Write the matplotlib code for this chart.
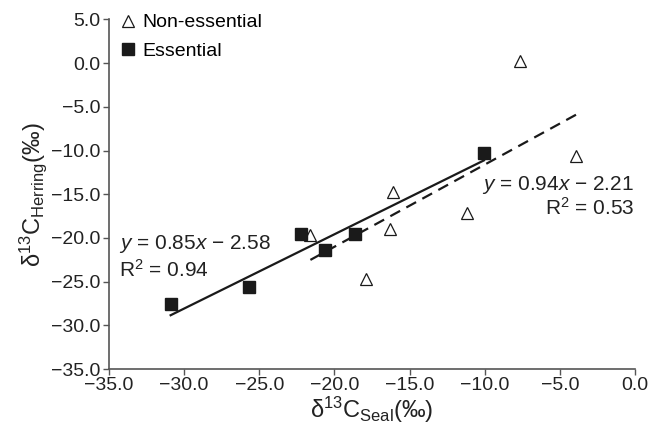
import matplotlib

matplotlib.use("Agg")
import matplotlib.pyplot as plt
import numpy as np

plt.rcParams["font.family"] = ["Liberation Sans", "DejaVu Sans"]
plt.rcParams["mathtext.fontset"] = "custom"
plt.rcParams["mathtext.rm"] = "Liberation Sans"
plt.rcParams["mathtext.it"] = "Liberation Sans:italic"

# essential fatty acids (filled squares)
ess_seal = [-30.9, -25.7, -22.2, -20.6, -18.6, -10.05]
ess_herring = [-27.6, -25.6, -19.6, -21.4, -19.6, -10.3]

# non-essential (open triangles)
non_seal = [-21.6, -16.3, -17.9, -11.2, -16.1, -7.65, -3.9]
non_herring = [-19.7, -19.0, -24.7, -17.2, -14.7, 0.2, -10.6]

ess_fit = (0.85, -2.58, 0.94)
non_fit = (0.94, -2.21, 0.53)

xticks = np.arange(-35, 0.1, 5)
yticks = np.arange(-35, 5.1, 5)

fig = plt.figure(figsize=(6.62, 4.37), dpi=100)
ax = fig.add_axes([0.1647, 0.1556, 0.7945, 0.7998])

ink = "#1a1a1a"
txt = "#222222"
spine_col = "#555555"

xe = np.array([min(ess_seal), max(ess_seal)])
ax.plot(xe, ess_fit[0] * xe + ess_fit[1], color=ink, lw=1.6, zorder=2)
xn = np.array([min(non_seal), max(non_seal)])
ax.plot(xn, non_fit[0] * xn + non_fit[1], color=ink, lw=1.6, ls=(0, (5, 3.2)), zorder=2)

ax.plot(non_seal, non_herring, ls="none", marker="^", ms=9, mfc="white", mec=ink, mew=0.9,
        label="Non-essential", zorder=3)
ax.plot(ess_seal, ess_herring, ls="none", marker="s", ms=9, mfc=ink, mec=ink,
        label="Essential", zorder=4)

ax.text(-34.35, -20.7, r"$y$ = 0.85$x$ − 2.58", fontsize=15, ha="left", va="center", color=txt)
ax.text(-34.35, -23.65, r"R$^2$ = 0.94", fontsize=15, ha="left", va="center", color=txt)
ax.text(-0.05, -13.9, r"$y$ = 0.94$x$ − 2.21", fontsize=15, ha="right", va="center", color=txt)
ax.text(-0.05, -16.55, r"R$^2$ = 0.53", fontsize=15, ha="right", va="center", color=txt)

ax.set_xlim(-35, 0)
ax.set_ylim(-35, 5)
ax.set_xticks(xticks)
ax.set_yticks(yticks)
ax.set_xticklabels([f"{v:.1f}".replace("-", "−") for v in xticks])
ax.set_yticklabels([f"{v:.1f}".replace("-", "−") for v in yticks])
ax.tick_params(labelsize=14, length=4, width=1, color=spine_col, labelcolor=txt, pad=2)

for side in ("top", "right"):
    ax.spines[side].set_visible(False)
for side in ("left", "bottom"):
    ax.spines[side].set_color(spine_col)
    ax.spines[side].set_linewidth(1.2)

ax.set_xlabel(r"δ$^{13}$C$_{\mathrm{Seal}}$(‰)", fontsize=17, color=txt, labelpad=0)
ax.set_ylabel(r"δ$^{13}$C$_{\mathrm{Herring}}$(‰)", fontsize=17, color=txt, labelpad=2)

leg = ax.legend(loc="upper left", bbox_to_anchor=(-0.005, 1.055), frameon=False, fontsize=14,
                handlelength=0.8, handletextpad=0.35, labelspacing=0.55, borderaxespad=0.3)
for h in leg.legend_handles:
    h.set_markersize(8.5)

fig.savefig("out.png", dpi=100)
